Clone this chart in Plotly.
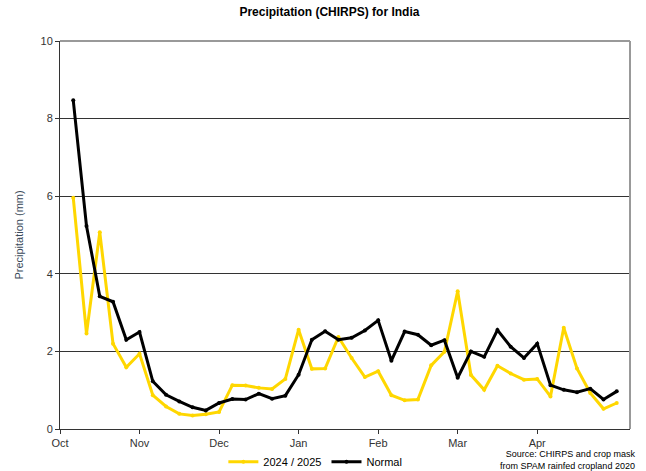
import plotly.graph_objects as go

# pentad index (6 per month, starting Oct)
pentads = list(range(1, 43))
current = [5.96, 2.46, 5.07, 2.20, 1.59, 1.94, 0.87, 0.58, 0.39, 0.35, 0.38, 0.44,
           1.13, 1.12, 1.06, 1.03, 1.29, 2.56, 1.55, 1.56, 2.37, 1.83, 1.34, 1.49,
           0.87, 0.74, 0.76, 1.64, 1.99, 3.55, 1.39, 1.01, 1.63, 1.43, 1.27, 1.29,
           0.84, 2.61, 1.56, 0.93, 0.52, 0.67]
normal = [8.47, 5.23, 3.42, 3.28, 2.30, 2.50, 1.23, 0.88, 0.71, 0.56, 0.48, 0.67,
          0.77, 0.76, 0.91, 0.78, 0.86, 1.40, 2.30, 2.52, 2.30, 2.35, 2.54, 2.80,
          1.76, 2.51, 2.43, 2.16, 2.29, 1.32, 2.00, 1.86, 2.55, 2.12, 1.83, 2.20,
          1.13, 1.01, 0.95, 1.04, 0.76, 0.97]
month_ticks = [0, 6, 12, 18, 24, 30, 36]
month_labels = ["Oct", "Nov", "Dec", "Jan", "Feb", "Mar", "Apr"]
y_ticks = [0, 2, 4, 6, 8, 10]

FONT = "Liberation Sans, Arial, sans-serif"

fig = go.Figure()
fig.add_trace(go.Scatter(x=pentads, y=current, name="2024 / 2025", mode="lines+markers",
                         line=dict(color="#FFD700", width=3), marker=dict(size=4, color="#FFD700")))
fig.add_trace(go.Scatter(x=pentads, y=normal, name="Normal", mode="lines+markers",
                         line=dict(color="#000000", width=3), marker=dict(size=4, color="#000000")))

fig.update_layout(
    width=646, height=471,
    margin=dict(l=60, r=16, t=41, b=42, autoexpand=False),
    paper_bgcolor="white", plot_bgcolor="white",
    font=dict(family=FONT, size=11, color="#333333"),
    title=dict(text="<b>Precipitation (CHIRPS) for India</b>", x=0.51, xanchor="center",
               y=1 - 12 / 471, yanchor="middle", font=dict(size=12, color="#000000", family=FONT)),
    xaxis=dict(range=[0, 43], tickmode="array", tickvals=month_ticks, ticktext=month_labels,
               showgrid=False, zeroline=False, showline=True, linecolor="#333333", linewidth=1,
               ticks="outside", ticklen=4, tickcolor="#333333", automargin=False,
               tickfont=dict(size=11, color="#333333")),
    yaxis=dict(range=[0, 10], tickvals=y_ticks, showgrid=True, gridcolor="#333333", gridwidth=1,
               zeroline=False, showline=True, linecolor="#333333", linewidth=1,
               ticks="outside", ticklen=4, tickcolor="#333333", automargin=False,
               title=dict(text="Precipitation (mm)", font=dict(size=11, color="#3a4a5a"), standoff=14),
               tickfont=dict(size=11, color="#333333")),
    legend=dict(orientation="h", x=0.448, xanchor="center", y=-0.047, yanchor="top",
                font=dict(size=11, color="#000000"), itemwidth=30, bgcolor="rgba(0,0,0,0)"),
    showlegend=True,
)

# top and right plot border (gray)
fig.add_shape(type="line", xref="paper", yref="paper", x0=0, x1=1, y0=1, y1=1,
              line=dict(color="#999999", width=2))
fig.add_shape(type="line", xref="paper", yref="paper", x0=1, x1=1, y0=0, y1=1,
              line=dict(color="#999999", width=2))

fig.add_annotation(text="Source: CHIRPS and crop mask<br>from SPAM rainfed cropland 2020",
                   xref="paper", yref="paper", x=1.0, xshift=7, y=-0.047, xanchor="right", yanchor="top",
                   showarrow=False, align="right", font=dict(size=9, color="#000000", family=FONT))

fig.write_html("out.html", config={"displayModeBar": False},
               post_script="document.body.style.margin='0';")
